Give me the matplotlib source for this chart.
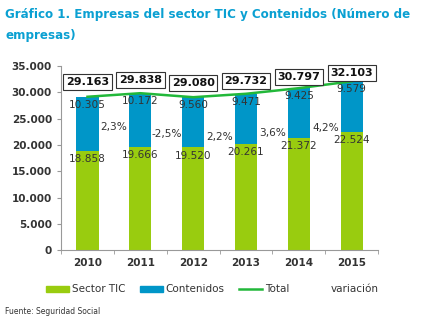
import numpy as np
import matplotlib
matplotlib.use("Agg")
import matplotlib.pyplot as plt
from matplotlib.ticker import FuncFormatter, FixedLocator
from matplotlib.lines import Line2D
from matplotlib.patches import Patch

plt.rcParams.update({
    "font.family": "DejaVu Sans",
    "font.size": 7.5,
})

GREEN = "#99CC0F"
BLUE = "#0096C8"
LINE = "#22B83A"
TITLE = "#0AA0D2"
TEXT = "#333333"

# ── data ──────────────────────────────────────────────────────────────────────
years = ["2010", "2011", "2012", "2013", "2014", "2015"]
sector_tic = [18858, 19666, 19520, 20261, 21372, 22524]
contenidos = [10305, 10172, 9560, 9471, 9425, 9579]
total = [29163, 29838, 29080, 29732, 30797, 32103]
variacion = ["2,3%", "-2,5%", "2,2%", "3,6%", "4,2%"]
variacion_y = [23400, 22000, 21500, 22200, 23200]   # label heights
total_label_y = [32000, 32300, 31800, 32200, 32900, 33700]


def miles(v, _pos=None):
    return f"{int(v):,}".replace(",", ".")


fig = plt.figure(figsize=(4.24, 3.27), dpi=100)
ax = fig.add_axes([0.144, 0.235, 0.748, 0.563])

x = np.arange(len(years))
w = 0.42
ax.bar(x, sector_tic, w, color=GREEN, zorder=2)
ax.bar(x, contenidos, w, bottom=sector_tic, color=BLUE, zorder=2)
ax.plot(x, total, color=LINE, lw=1.8, zorder=3)

for i in range(len(years)):
    ax.text(x[i], sector_tic[i] - 600, miles(sector_tic[i]), ha="center", va="top",
            fontsize=7.6, color=TEXT, zorder=4)
    ax.text(x[i], total[i] - 600, miles(contenidos[i]), ha="center", va="top",
            fontsize=7.6, color=TEXT, zorder=4)
    ax.text(x[i], total_label_y[i], miles(total[i]), ha="center", va="center",
            fontsize=8, fontweight="bold", color="#111111", zorder=5,
            bbox=dict(boxstyle="square,pad=0.25", fc="white", ec="#333333", lw=0.8))

for i, lab in enumerate(variacion):
    ax.text(x[i] + 0.5, variacion_y[i], lab, ha="center", va="center",
            fontsize=7.6, color=TEXT, zorder=4)

ax.set_xlim(-0.5, len(years) - 0.5)
ax.set_ylim(0, 35000)
ax.set_yticks(np.arange(0, 35001, 5000))
ax.yaxis.set_major_formatter(FuncFormatter(miles))
ax.set_xticks(x)
ax.set_xticklabels(years, fontweight="bold")
ax.xaxis.set_minor_locator(FixedLocator(np.arange(-0.5, len(years), 1.0)))
ax.tick_params(axis="x", which="major", length=0, pad=6, labelsize=7.5, colors=TEXT)
ax.tick_params(axis="x", which="minor", length=3, color="#999999")
ax.tick_params(axis="y", length=3, color="#999999", labelsize=7.5, labelcolor=TEXT)
for lab in ax.get_yticklabels():
    lab.set_fontweight("bold")
for s in ["top", "right"]:
    ax.spines[s].set_visible(False)
for s in ["left", "bottom"]:
    ax.spines[s].set_color("#999999")
    ax.spines[s].set_linewidth(0.8)

handles = [
    Patch(color=GREEN, label="Sector TIC"),
    Patch(color=BLUE, label="Contenidos"),
    Line2D([], [], color=LINE, lw=1.8, label="Total"),
    Line2D([], [], color="none", label="variación"),
]
fig.legend(handles=handles, loc="center", bbox_to_anchor=(0.5, 0.115), ncol=4,
           frameon=False, fontsize=7.5, handlelength=2.2, handleheight=0.5,
           handletextpad=0.3, columnspacing=1.4, labelcolor=TEXT)

fig.text(0.012, 0.975, "Gráfico 1. Empresas del sector TIC y Contenidos (Número de",
         ha="left", va="top", fontsize=8.6, fontweight="bold", color=TITLE)
fig.text(0.012, 0.912, "empresas)", ha="left", va="top", fontsize=8.6,
         fontweight="bold", color=TITLE)
fig.text(0.012, 0.048, "Fuente: Seguridad Social", ha="left", va="center",
         fontsize=5.5, color=TEXT)

fig.savefig("out.png", dpi=100)
